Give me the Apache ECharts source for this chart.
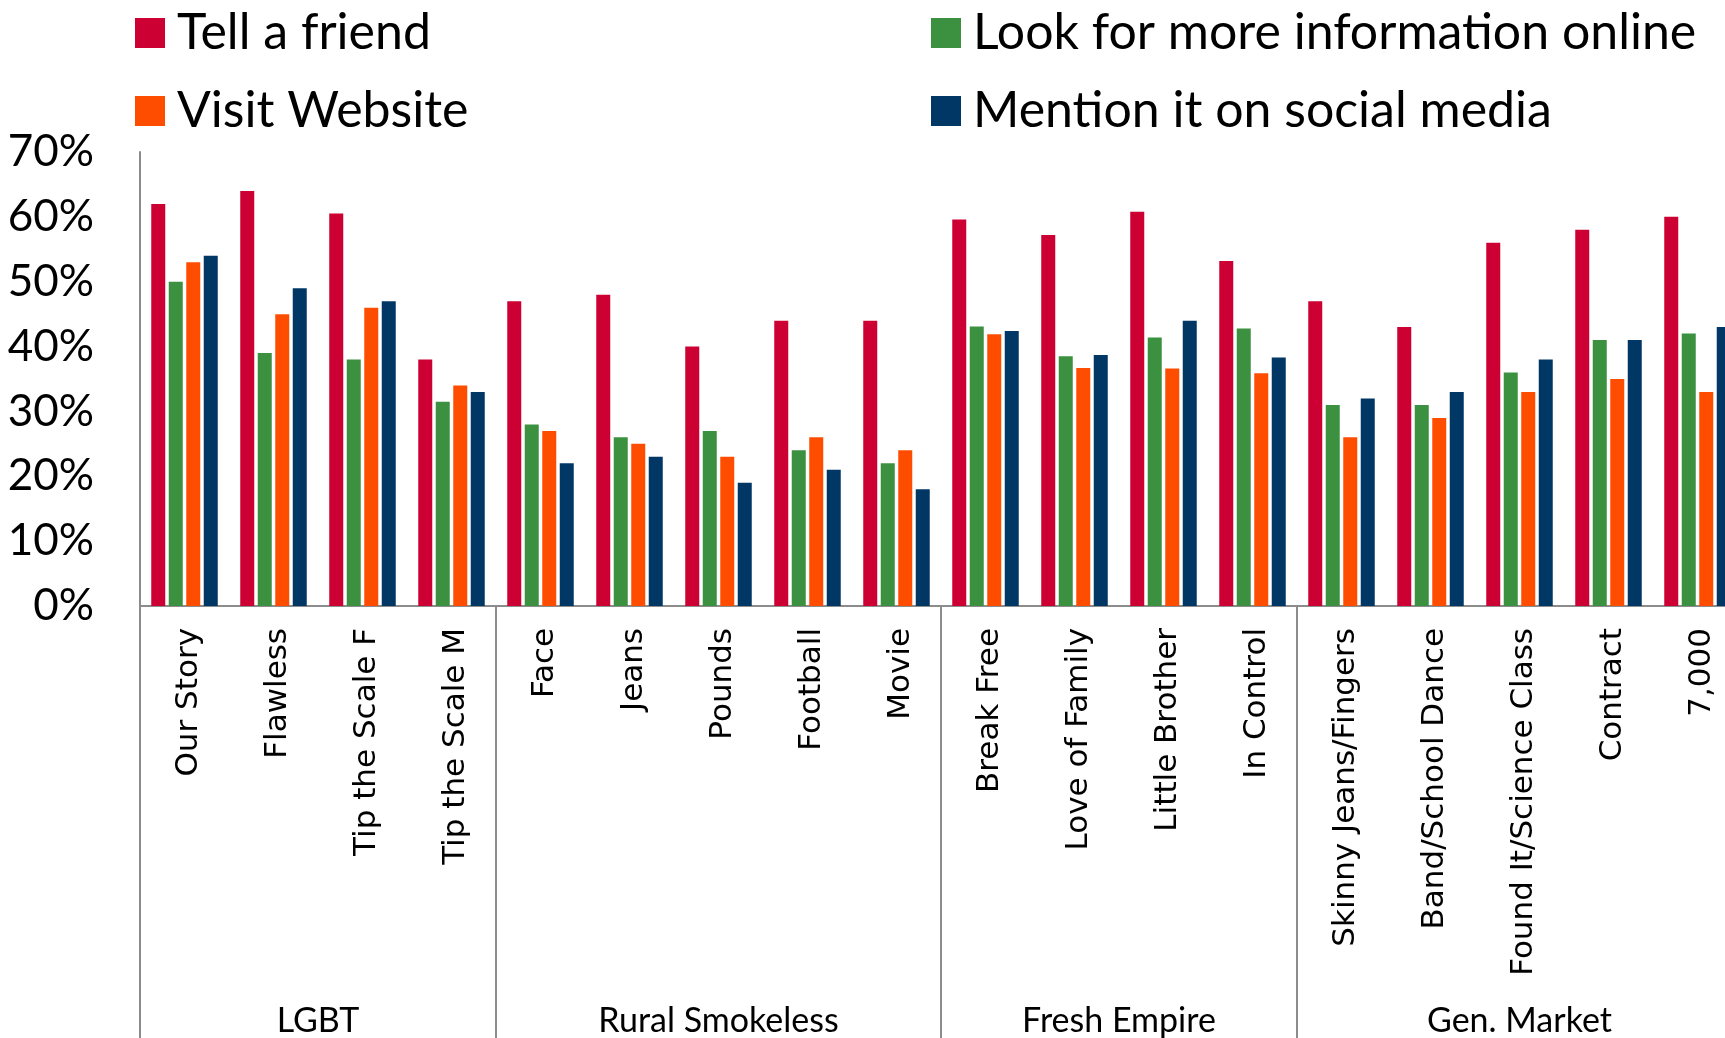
<!DOCTYPE html>
<html>
<head>
<meta charset="utf-8">
<script src="https://cdn.jsdelivr.net/npm/echarts@6/dist/echarts.min.js"></script>
<style>
  html, body { margin: 0; padding: 0; background: #ffffff; overflow: hidden; }
  /* the last category runs past the right edge of the page, so the canvas is wider than the window */
  #chart { width: 1760px; height: 1038px; }
</style>
</head>
<body>
<div id="chart"></div>
<script>
// Ad recall follow-up actions, by campaign ad (percent of respondents)
const categories = ['Our Story', 'Flawless', 'Tip the Scale F', 'Tip the Scale M',
  'Face', 'Jeans', 'Pounds', 'Football', 'Movie',
  'Break Free', 'Love of Family', 'Little Brother', 'In Control',
  'Skinny Jeans/Fingers', 'Band/School Dance', 'Found It/Science Class', 'Contract', '7,000'];
const groups = ['LGBT', 'Rural Smokeless', 'Fresh Empire', 'Gen. Market'];
const groupSizes = [4, 5, 4, 5];

const seriesNames = ['Tell a friend', 'Look for more information online', 'Visit Website', 'Mention it on social media'];
const tellAFriend  = [62, 64, 60.5, 38, 47, 48, 40, 44, 44, 59.6, 57.2, 60.8, 53.2, 47, 43, 56, 58, 60];
const lookOnline   = [50, 39, 38, 31.5, 28, 26, 27, 24, 22, 43.1, 38.5, 41.4, 42.8, 31, 31, 36, 41, 42];
const visitWebsite = [53, 45, 46, 34, 27, 25, 23, 26, 24, 41.9, 36.7, 36.6, 35.9, 26, 29, 33, 35, 33];
const socialMedia  = [54, 49, 47, 33, 22, 23, 19, 21, 18, 42.4, 38.7, 44, 38.3, 32, 33, 38, 41, 43];

const yTicks = { min: 0, max: 70, step: 10 };
const colors = ['#CC0033', '#3B913F', '#FF4D00', '#003764'];

// Half-slot axis used for the group separators and group names:
// 2 slots per category, so group boundaries and group centers fall on slot points.
const halfSlots = new Array(categories.length * 2 + 1).fill('');
const boundarySlots = new Set([0]);
let start = 0;
groups.forEach((g, i) => {
  halfSlots[start * 2 + groupSizes[i]] = g;
  start += groupSizes[i];
  boundarySlots.add(start * 2);
});

const gray = '#8C8C8C';
const chart = echarts.init(document.getElementById('chart'), null, { renderer: 'canvas' });

const legendText = {
  fontFamily: 'Lato', fontSize: 50, color: '#000', lineHeight: 56, padding: [0, 0, 0, 7]
};

chart.setOption({
  backgroundColor: '#ffffff',
  animation: false,
  color: colors,
  legend: [
    {
      orient: 'vertical', left: 130, top: 0, itemGap: 22,
      icon: 'rect', itemWidth: 30, itemHeight: 30,
      data: [seriesNames[0], seriesNames[2]],
      textStyle: legendText
    },
    {
      orient: 'vertical', left: 926, top: 0, itemGap: 22,
      icon: 'rect', itemWidth: 30, itemHeight: 30,
      data: [seriesNames[1], seriesNames[3]],
      textStyle: legendText
    }
  ],
  grid: { left: 140, top: 152, right: 18, bottom: 432, containLabel: false },
  xAxis: [
    {
      type: 'category',
      data: categories,
      position: 'bottom',
      axisLine: { show: true, lineStyle: { color: gray, width: 2 } },
      axisTick: { show: false },
      axisLabel: {
        rotate: 90, margin: 22, interval: 0,
        verticalAlign: 'top', lineHeight: 9,
        fontFamily: 'DejaVu Sans', fontSize: 31, color: '#000'
      }
    },
    {
      type: 'category',
      data: halfSlots,
      boundaryGap: false,
      position: 'bottom',
      axisLine: { show: false },
      axisTick: {
        show: true, length: 432,
        interval: (i) => boundarySlots.has(i),
        lineStyle: { color: gray, width: 2 }
      },
      axisLabel: {
        interval: (i, v) => v !== '',
        margin: 398,
        fontFamily: 'Lato', fontSize: 34, color: '#000'
      }
    }
  ],
  yAxis: {
    type: 'value',
    min: yTicks.min, max: yTicks.max, interval: yTicks.step,
    splitLine: { show: false },
    axisLine: { show: true, lineStyle: { color: gray, width: 2 } },
    axisTick: { show: false },
    axisLabel: {
      formatter: '{value}%', margin: 46,
      fontFamily: 'Lato', fontSize: 44, color: '#000'
    }
  },
  series: [tellAFriend, lookOnline, visitWebsite, socialMedia].map((vals, i) => ({
    name: seriesNames[i],
    type: 'bar',
    xAxisIndex: 0,
    data: vals,
    barWidth: 14,
    barGap: '25%',
    itemStyle: { color: colors[i] }
  }))
});
</script>
</body>
</html>
